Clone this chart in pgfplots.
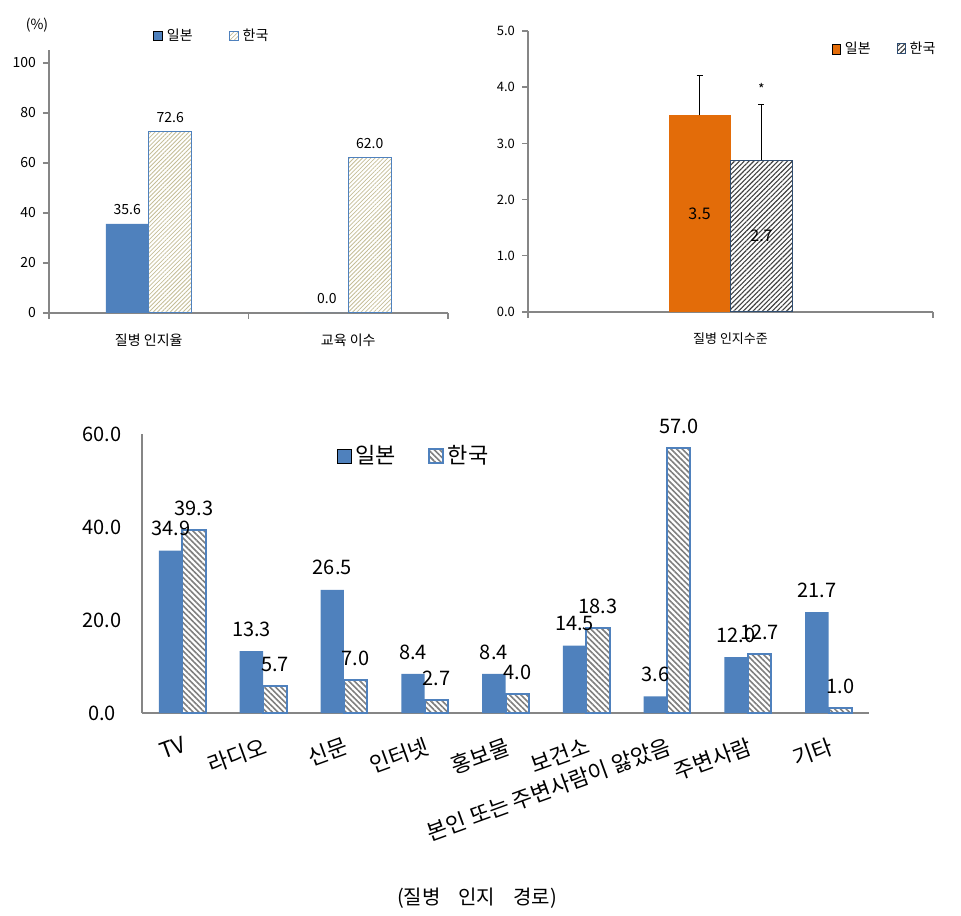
\documentclass[border=0pt]{standalone}
\usepackage{pgfplots}
\pgfplotsset{compat=1.18}
\usepackage{fontspec}
\setmainfont{Noto Sans CJK KR}
\usetikzlibrary{patterns.meta}
\definecolor{jpblue}{HTML}{4F81BD}
\definecolor{jporange}{HTML}{E36C09}
\definecolor{axgray}{HTML}{868686}
\definecolor{tanline}{HTML}{C4BD97}
\definecolor{hatchgray}{HTML}{7F7F7F}
\definecolor{hatchdark}{HTML}{404040}

\begin{document}
\begin{tikzpicture}
\path[use as bounding box] (0,0) rectangle (480.5pt,457.5pt);

% ---------------- top-left ----------------
\begin{axis}[
  at={(24.5pt,301pt)}, anchor=south west,
  scale only axis, width=199.5pt, height=131.5pt,
  xmin=-0.5, xmax=1.5, ymin=0, ymax=105.2,
  axis x line*=bottom, axis y line*=left,
  x axis line style={axgray, line width=1.3pt, -},
  y axis line style={axgray, line width=0.7pt, -},
  ytick={0,20,...,100},
  xtick={0,1}, xticklabels={질병 인지율, 교육 이수},
  major x tick style={draw=none},
  minor xtick={-0.5,0.5,1.5},
  minor x tick style={axgray, line width=0.7pt},
  y tick style={axgray, line width=0.7pt},
  tick align=outside,
  major tick length=3pt, minor tick length=3pt,
  tick label style={font=\fontsize{7}{8}\selectfont},
  xticklabel style={yshift=-4pt},
  /pgf/number format/assume math mode=true,
  ybar, bar width=0.215,
  nodes near coords={\pgfmathprintnumber[fixed,fixed zerofill,precision=1]{\pgfplotspointmeta}},
  every node near coord/.append style={font=\fontsize{7}{8}\selectfont, anchor=center, yshift=7pt, black},
  legend style={draw=none, fill=none, at={(0.26,1.053)}, anchor=west, legend columns=2,
    font=\fontsize{7}{8}\selectfont, inner sep=0pt,
    /tikz/every even column/.append style={column sep=16pt}},
  legend image code/.code={\draw[#1] (0pt,-2.25pt) rectangle (4.5pt,2.25pt);},
  clip=false,
]
\addplot[fill=jpblue, draw=none, bar shift=-0.1075] coordinates {(0,35.6) (1,0)};
\addplot[pattern={Lines[angle=45,distance=1.5pt,line width=0.4pt]}, pattern color=tanline, draw=jpblue, line width=0.5pt, bar shift=0.1075] coordinates {(0,72.6) (1,62.0)};
\legend{일본, 한국}
\node[font=\fontsize{7}{8}\selectfont] at (axis description cs:-0.03,1.095) {(\%)};
\end{axis}

% ---------------- top-right ----------------
\begin{axis}[
  at={(264pt,301.5pt)}, anchor=south west,
  scale only axis, width=202.5pt, height=140.5pt,
  xmin=-0.5, xmax=0.5, ymin=0, ymax=5,
  axis x line*=bottom, axis y line*=left,
  x axis line style={axgray, line width=1.3pt, -},
  y axis line style={axgray, line width=0.7pt, -},
  ytick={0,1,...,5},
  yticklabel style={/pgf/number format/fixed, /pgf/number format/fixed zerofill, /pgf/number format/precision=1},
  xtick={0}, xticklabels={질병 인지수준},
  major x tick style={draw=none},
  minor xtick={-0.5,0.5},
  minor x tick style={axgray, line width=0.7pt},
  y tick style={axgray, line width=0.7pt},
  tick align=outside,
  major tick length=3pt, minor tick length=3pt,
  tick label style={font=\fontsize{6.5}{7.5}\selectfont},
  xticklabel style={yshift=-4pt},
  /pgf/number format/assume math mode=true,
  ybar, bar width=0.153,
  nodes near coords={\pgfmathprintnumber[fixed,fixed zerofill,precision=1]{\pgfplotspointmeta}},
  visualization depends on=rawy \as \rawy,
  every node near coord/.append style={font=\fontsize{8}{9}\selectfont, anchor=center, black,
    shift={(axis direction cs:0,-\rawy/2)}},
  legend style={draw=none, fill=none, at={(0.75,0.936)}, anchor=west, legend columns=2,
    font=\fontsize{7}{8}\selectfont, inner sep=0pt,
    /tikz/every even column/.append style={column sep=11pt}},
  legend image code/.code={\draw[#1] (0pt,-2.5pt) rectangle (4pt,2.5pt);},
  clip=false,
]
\addplot[fill=jporange, draw=none, bar shift=-0.0765,
  error bars/.cd, y dir=plus, y explicit,
  error bar style={black, line width=0.5pt},
  error mark options={black, mark size=1.5pt, line width=0.5pt, rotate=90}]
  coordinates {(0,3.5) +- (0,0.7)};
\addplot[pattern={Lines[angle=45,distance=1.7pt,line width=0.55pt]}, pattern color=hatchdark, draw=jpblue!60!black, line width=0.5pt, bar shift=0.0765,
  error bars/.cd, y dir=plus, y explicit,
  error bar style={black, line width=0.5pt},
  error mark options={black, mark size=1.5pt, line width=0.5pt, rotate=90}]
  coordinates {(0,2.7) +- (0,1.0)};
\legend{일본, 한국}
\node[font=\fontsize{7}{8}\selectfont] at (axis cs:0.0765,3.97) {*};
\end{axis}

% ---------------- bottom ----------------
\begin{axis}[
  at={(71pt,101pt)}, anchor=south west,
  scale only axis, width=363.5pt, height=139.5pt,
  xmin=-0.5, xmax=8.5, ymin=0, ymax=60,
  axis x line*=bottom, axis y line*=left,
  axis line style={axgray, line width=1.4pt, -},
  ytick={0,20,40,60},
  major tick length=0pt,
  yticklabel style={/pgf/number format/fixed, /pgf/number format/fixed zerofill, /pgf/number format/precision=1,
    /tikz/anchor=center, /tikz/xshift=-20pt, /tikz/font=\fontsize{10}{11}\selectfont},
  xtick={0,...,8},
  xticklabels={TV,라디오,신문,인터넷,홍보물,보건소,본인 또는 주변사람이 앓았음,주변사람,기타},
  xticklabel style={rotate=20, anchor=north east, inner sep=0pt, yshift=-10.5pt, xshift=-4pt, font=\fontsize{11}{12}\selectfont},
  /pgf/number format/assume math mode=true,
  ybar, bar width=0.29,
  nodes near coords={\pgfmathprintnumber[fixed,fixed zerofill,precision=1]{\pgfplotspointmeta}},
  every node near coord/.append style={font=\fontsize{10}{11}\selectfont, anchor=center, yshift=11pt, black},
  legend style={draw=none, fill=none, at={(0.267,0.921)}, anchor=west, legend columns=2,
    font=\fontsize{11}{12}\selectfont, inner sep=0pt,
    /tikz/every even column/.append style={column sep=14pt}},
  legend image code/.code={\draw[#1] (0pt,-3.5pt) rectangle (7pt,3.5pt);},
  clip=false,
]
\addplot[fill=jpblue, draw=none, bar shift=-0.145]
  coordinates {(0,34.9) (1,13.3) (2,26.5) (3,8.4) (4,8.4) (5,14.5) (6,3.6) (7,12.0) (8,21.7)};
\addplot[pattern={Lines[angle=-45,distance=2pt,line width=0.8pt]}, pattern color=hatchgray, draw=jpblue, line width=1pt, bar shift=0.145]
  coordinates {(0,39.3) (1,5.7) (2,7.0) (3,2.7) (4,4.0) (5,18.3) (6,57.0) (7,12.7) (8,1.0)};
\legend{일본, 한국}
\end{axis}

\node[font=\fontsize{10}{11}\selectfont] at (238.5pt,8.5pt) {(질병\hspace{0.9em}인지\hspace{0.9em}경로)};
\end{tikzpicture}
\end{document}
